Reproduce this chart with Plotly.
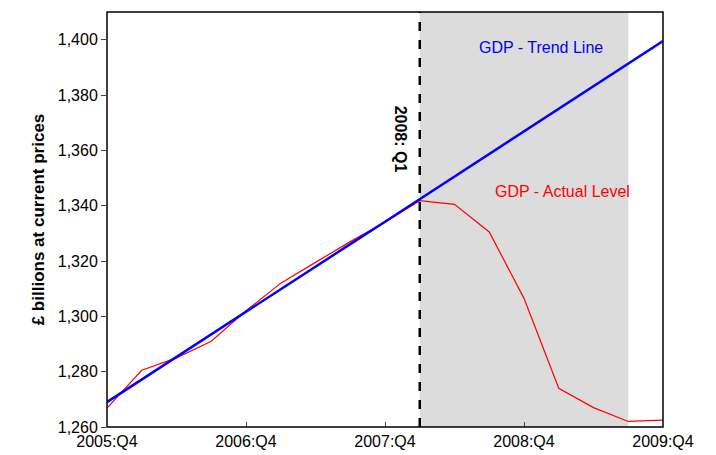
import plotly.graph_objects as go

quarters = ["2005:Q4","2006:Q1","2006:Q2","2006:Q3","2006:Q4","2007:Q1","2007:Q2","2007:Q3","2007:Q4",
            "2008:Q1","2008:Q2","2008:Q3","2008:Q4","2009:Q1","2009:Q2","2009:Q3","2009:Q4"]
actual = [1266.8,1280.5,1285,1291,1302,1312,1319.5,1327,1334,1341.8,1340.5,1330.5,1306.5,1274,1267,1262,1262.5]
trend = [1269,1277.2,1285.3,1293.5,1301.6,1309.8,1317.9,1326.1,1334.2,1342.4,1350.6,1358.7,1366.9,1375.0,1383.2,1391.3,1399.5]
tick_labels = ["2005:Q4","2006:Q4","2007:Q4","2008:Q4","2009:Q4"]
yticks = [1260,1280,1300,1320,1340,1360,1380,1400]

x = list(range(len(quarters)))
fig = go.Figure()
fig.add_vrect(x0=quarters.index("2008:Q1"), x1=quarters.index("2009:Q3"), fillcolor="#dcdcdc", opacity=1, line_width=0, layer="below")
fig.add_trace(go.Scatter(x=x, y=actual, mode="lines", line=dict(color="red", width=1.2)))
fig.add_trace(go.Scatter(x=x, y=trend, mode="lines", line=dict(color="blue", width=2.5)))
fig.add_vline(x=quarters.index("2008:Q1"), line=dict(color="black", width=2.5, dash="dash"))
fig.add_shape(type="rect", xref="paper", yref="paper", x0=0, x1=1, y0=0, y1=1, line=dict(color="black", width=1.5))
fig.add_annotation(x=12.5, y=1397, text="GDP - Trend Line", showarrow=False, font=dict(color="blue", size=16))
fig.add_annotation(x=13.1, y=1345, text="GDP - Actual Level", showarrow=False, font=dict(color="red", size=16))
fig.add_annotation(x=8.45, y=1364, text="<b>2008: Q1</b>", textangle=90, showarrow=False, font=dict(color="black", size=16))
fig.update_layout(
    width=716, height=455, margin=dict(l=99, r=61, t=4, b=36, autoexpand=False),
    plot_bgcolor="white", paper_bgcolor="white", showlegend=False,
    font=dict(family="Liberation Sans, Arial", size=16, color="black"),
    xaxis=dict(range=[0,16], tickvals=[quarters.index(t) for t in tick_labels], ticktext=tick_labels,
               showgrid=False, zeroline=False, showline=False,
               ticks="inside", ticklen=5, automargin=False, ticklabelstandoff=3),
    yaxis=dict(range=[1260,1410], tickvals=yticks, tickformat=",", showgrid=False, zeroline=False,
               showline=False, ticks="outside", ticklen=5,
               automargin=False,
               title=dict(text="<b>£ billions at current prices</b>", font=dict(size=17), standoff=8)),
)
fig.write_html("out.html")
